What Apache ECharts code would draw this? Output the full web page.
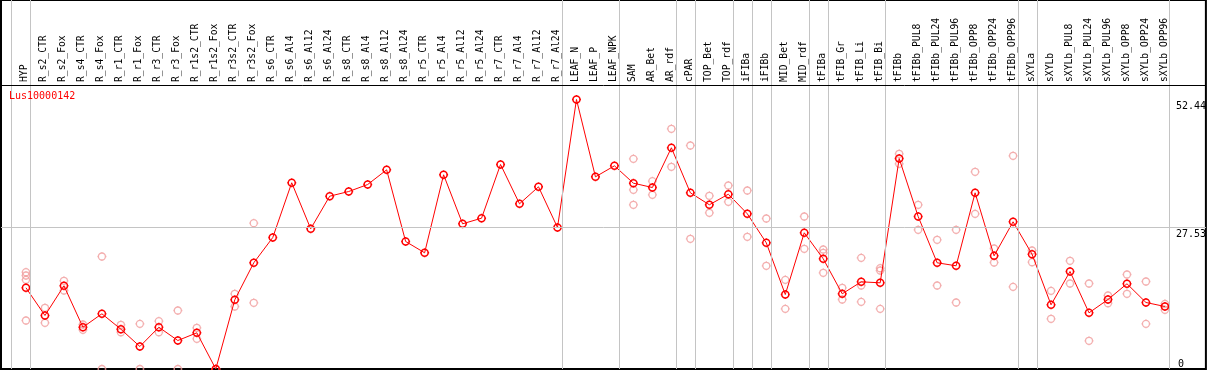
<!DOCTYPE html>
<html><head><meta charset="utf-8">
<script src="https://cdn.jsdelivr.net/npm/echarts@6/dist/echarts.min.js"></script>
<style>html,body{margin:0;padding:0;background:#fff}#c{width:1209px;height:370px}</style>
</head><body><div id="c"></div>
<script>
const geneName = 'Lus10000142';
const categories = ['HYP','R_s2_CTR','R_s2_Fox','R_s4_CTR','R_s4_Fox','R_r1_CTR','R_r1_Fox','R_r3_CTR','R_r3_Fox','R_r1s2_CTR','R_r1s2_Fox','R_r3s2_CTR','R_r3s2_Fox','R_s6_CTR','R_s6_Al4','R_s6_Al12','R_s6_Al24','R_s8_CTR','R_s8_Al4','R_s8_Al12','R_s8_Al24','R_r5_CTR','R_r5_Al4','R_r5_Al12','R_r5_Al24','R_r7_CTR','R_r7_Al4','R_r7_Al12','R_r7_Al24','LEAF_N','LEAF_P','LEAF_NPK','SAM','AR_Bet','AR_rdf','cPAR','TOP_Bet','TOP_rdf','iFIBa','iFIBb','MID_Bet','MID_rdf','tFIBa','tFIB_Gr','tFIB_Li','tFIB_Bi','tFIBb','tFIBb_PUL8','tFIBb_PUL24','tFIBb_PUL96','tFIBb_OPP8','tFIBb_OPP24','tFIBb_OPP96','sXYLa','sXYLb','sXYLb_PUL8','sXYLb_PUL24','sXYLb_PUL96','sXYLb_OPP8','sXYLb_OPP24','sXYLb_OPP96'];
const means = [15.80,10.41,16.19,8.13,10.74,7.74,4.38,8.13,5.54,7.04,0,13.46,20.66,25.58,36.23,27.28,33.62,34.53,35.89,38.75,24.81,22.61,37.78,28.25,29.34,39.79,32.14,35.45,27.53,52.44,37.39,39.53,36.15,35.31,43.04,34.28,31.95,34.01,30.19,24.55,14.49,26.50,21.44,14.63,16.96,16.77,40.95,29.67,20.66,20.08,34.28,22.02,28.64,22.33,12.49,18.97,10.93,13.52,16.58,12.94,12.16];
const replicates = [
 [18.83,18.19,17.35,9.44],[11.91,8.99],[17.16,15.27],[8.66,7.63],[21.89,0],[8.60,7.16],[8.79,0],[9.30,7.16],[11.38,0],[8.02,5.88],
 [0,0],[14.63,12.16],[28.37,12.88],[],[],[],[],[],[],[],
 [],[],[],[],[],[],[],[],[],[],
 [],[],[40.89,34.86,31.95],[36.54,33.89],[46.73,39.34],[43.48,25.33],[33.70,30.39],[35.70,32.53],[34.73,25.72],[29.28,20.08],
 [17.35,11.71],[29.67,23.39],[23.25,22.61,18.72],[15.80,13.52],[21.63,16.25,13.07],[19.61,19.16,11.71],[41.87,39.92],[31.95,27.08],[25.14,16.25],[27.08,12.94],
 [38.37,30.19],[23.44,20.72],[41.48,15.99],[23.05,20.78],[15.21,9.77],[21.05,16.63],[16.63,5.49],[14.30,12.80],[18.39,14.63],[17.02,8.79],
 [12.68,11.52]
];
const yTickLabels = [0, 27.53, 52.44];
const gridValue = 27.53;
// separator drawn after these category indices (-1 = before first)
const groupEnds = [-1,0,28,31,34,35,37,38,39,41,42,45,52,53,60];

const FONT = 'DejaVu Sans Mono';
const xMin = -25/19, xMax = xMin + 1206/19;
const yMax = 369/5.14;
const headerValue = (369-85)/5.14;
const sym = 'path://M0,-4.5L0,-3.5M0,3.5L0,4.5M-4.5,0L-3.5,0M3.5,0L4.5,0M3.5,0A3.5,3.5,0,1,1,-3.5,0A3.5,3.5,0,1,1,3.5,0Z';

const repData = [];
replicates.forEach((arr,i)=>arr.forEach(v=>repData.push([i,v])));

const chart = echarts.init(document.getElementById('c'), null, {renderer:'canvas'});
chart.setOption({
  animation:false,
  title:{text:geneName,left:9,top:91,padding:0,textStyle:{color:'#ff0000',fontFamily:FONT,fontSize:10,fontWeight:'normal'}},
  grid:[
    {left:1,right:2,top:0,bottom:1,show:true,borderColor:'#000',borderWidth:2,backgroundColor:'transparent'},
    {left:15,right:35,top:85,height:10}
  ],
  xAxis:[
    {type:'value',gridIndex:0,min:xMin,max:xMax,show:false},
    {type:'category',gridIndex:1,position:'top',data:categories,axisLine:{show:false},axisTick:{show:false},splitLine:{show:false},
     axisLabel:{rotate:90,margin:3,interval:0,fontFamily:FONT,fontSize:9.7,color:'#000'}}
  ],
  yAxis:[
    {type:'value',gridIndex:0,min:0,max:yMax,position:'right',axisLine:{show:false},axisTick:{show:false},splitLine:{show:false},
     axisLabel:{inside:true,align:'left',margin:30,verticalAlign:'top',customValues:yTickLabels.filter(v=>v>0),fontFamily:FONT,fontSize:10,color:'#000',padding:[2,0,0,0]}},
    {type:'value',gridIndex:0,min:0,max:yMax,position:'right',axisLine:{show:false},axisTick:{show:false},splitLine:{show:false},
     axisLabel:{inside:true,align:'left',margin:28,verticalAlign:'bottom',customValues:yTickLabels.filter(v=>v===0),fontFamily:FONT,fontSize:10,color:'#000'}},
    {type:'value',gridIndex:1,show:false}
  ],
  series:[
    {type:'line',xAxisIndex:0,yAxisIndex:0,data:[],z:1,silent:true,
     markLine:{silent:true,symbol:'none',label:{show:false},animation:false,
       data:[
         ...groupEnds.map(k=>({xAxis:k+0.25,lineStyle:{color:'#c4c4c4',width:1,type:'solid'}})),
         {yAxis:gridValue,lineStyle:{color:'#c4c4c4',width:1,type:'solid'}},
         {yAxis:headerValue,lineStyle:{color:'#000',width:1,type:'solid'}}
       ]}},
    {type:'scatter',xAxisIndex:0,yAxisIndex:0,data:repData,symbol:sym,symbolSize:9,z:3,silent:true,
     itemStyle:{color:'transparent',borderColor:'#f09a9a',borderWidth:1.3}},
    {type:'line',xAxisIndex:0,yAxisIndex:0,data:means.map((v,i)=>[i,v]),symbol:sym,symbolSize:9,showAllSymbol:true,z:4,silent:true,
     lineStyle:{color:'#ff0000',width:1},itemStyle:{color:'transparent',borderColor:'#ff0000',borderWidth:1.5}}
  ]
});
</script></body></html>
